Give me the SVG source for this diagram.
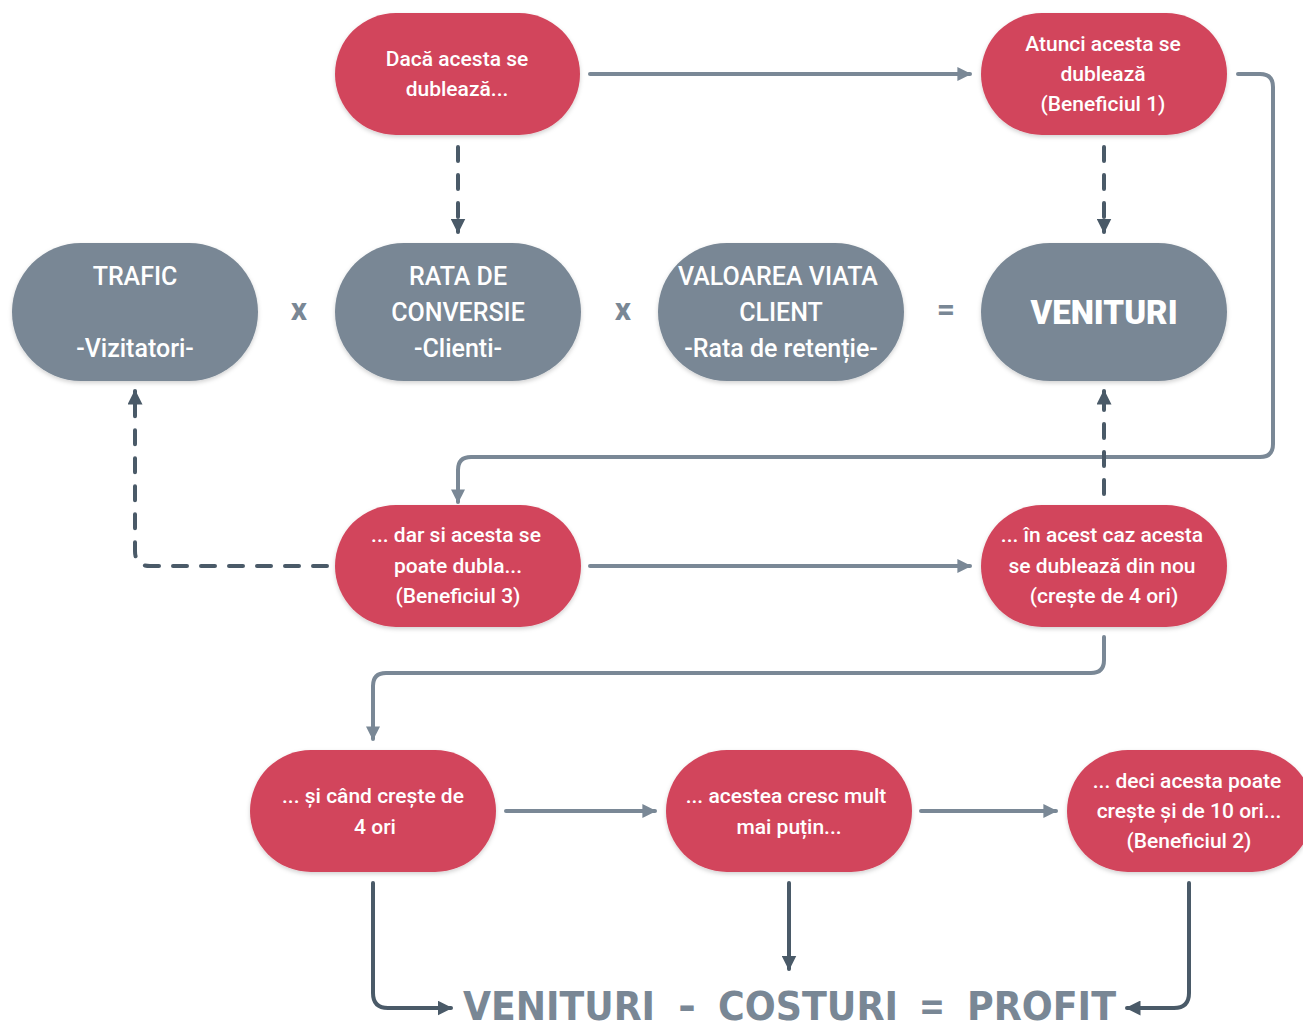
<svg xmlns="http://www.w3.org/2000/svg" width="1303" height="1029" viewBox="0 0 1303 1029">
<style>
.red{fill:#D2455B}
.gray{fill:#798795}
.t{font-family:Roboto,"Noto Sans",sans-serif;font-size:21px;font-weight:500;fill:#ffffff;text-anchor:middle}
.tg{font-family:Roboto,"Noto Sans",sans-serif;font-size:25px;font-weight:500;fill:#ffffff;text-anchor:middle}
.op{font-family:Roboto,"Noto Sans",sans-serif;font-size:32px;fill:#798795;text-anchor:middle;font-weight:bold}
.big{font-family:"DejaVu Sans Condensed","DejaVu Sans",sans-serif;font-size:39px;font-weight:bold;fill:#798795}
.solid{fill:none;stroke:#7A8896;stroke-width:4;stroke-linecap:round;stroke-linejoin:round}
.dash{fill:none;stroke:#4A5A68;stroke-width:4;stroke-linecap:round;stroke-dasharray:14 14}
.dark{fill:none;stroke:#4A5A68;stroke-width:4;stroke-linecap:round}
</style>
<defs>
<filter id="sh" x="-10%" y="-10%" width="120%" height="130%">
<feDropShadow dx="0" dy="2" stdDeviation="2" flood-color="#000" flood-opacity="0.18"/>
</filter>
<marker id="aS" viewBox="0 0 10 10" refX="9" refY="5" markerWidth="14" markerHeight="14" markerUnits="userSpaceOnUse" orient="auto"><path d="M0,0 L10,5 L0,10 z" fill="#7A8896"/></marker>
<marker id="aD" viewBox="0 0 10 10" refX="9" refY="5" markerWidth="15" markerHeight="15" markerUnits="userSpaceOnUse" orient="auto"><path d="M0,0 L10,5 L0,10 z" fill="#4A5A68"/></marker>
</defs>

<g id="connectors">
<path class="solid" d="M590,74 H970" marker-end="url(#aS)"/>
<path class="dash" d="M458,147 V222"/><path class="dark" d="M458,226 V232" marker-end="url(#aD)"/>
<path class="dash" d="M1104,147 V222"/><path class="dark" d="M1104,226 V232" marker-end="url(#aD)"/>
<path class="solid" d="M1238,74 H1260 Q1273,74 1273,87 V444 Q1273,457 1260,457 H471 Q458,457 458,470 V502" marker-end="url(#aS)"/>
<path class="dash" d="M1104,494 V400"/><path class="dark" d="M1104,396 V391" marker-end="url(#aD)"/>
<path class="dash" d="M327,566 H150 Q135,566 135,551 V400"/><path class="dark" d="M135,396 V391" marker-end="url(#aD)"/>
<path class="solid" d="M590,566 H970" marker-end="url(#aS)"/>
<path class="solid" d="M1104,637 V660 Q1104,673 1091,673 H386 Q373,673 373,686 V739" marker-end="url(#aS)"/>
<path class="solid" d="M506,811 H655" marker-end="url(#aS)"/>
<path class="solid" d="M921,811 H1056" marker-end="url(#aS)"/>
<path class="dark" d="M373,883 V993 Q373,1008 388,1008 H451" marker-end="url(#aD)"/>
<path class="dark" d="M789,883 V969" marker-end="url(#aD)"/>
<path class="dark" d="M1189,883 V993 Q1189,1008 1174,1008 H1127" marker-end="url(#aD)"/>
</g>

<g id="n1"><rect class="red" filter="url(#sh)" x="335" y="13" width="245" height="122" rx="61"/>
<text class="t" x="457" y="66">Dacă acesta se</text><text class="t" x="457" y="96">dublează...</text></g>

<g id="n2"><rect class="red" filter="url(#sh)" x="981" y="13" width="246" height="122" rx="61"/>
<text class="t" x="1103" y="51">Atunci acesta se</text><text class="t" x="1103" y="81">dublează</text><text class="t" x="1103" y="111">(Beneficiul 1)</text></g>

<g id="trafic"><rect class="gray" filter="url(#sh)" x="12" y="243" width="246" height="138" rx="69"/>
<text class="tg" x="135" y="285">TRAFIC</text><text class="tg" x="135" y="357">-Vizitatori-</text></g>

<g id="rata"><rect class="gray" filter="url(#sh)" x="335" y="243" width="246" height="138" rx="69"/>
<text class="tg" x="458" y="285">RATA DE</text><text class="tg" x="458" y="321">CONVERSIE</text><text class="tg" x="458" y="357">-Clienti-</text></g>

<g id="valoarea"><rect class="gray" filter="url(#sh)" x="658" y="243" width="246" height="138" rx="69"/>
<text class="tg" x="778" y="285">VALOAREA VIATA</text><text class="tg" x="781" y="321">CLIENT</text><text class="tg" x="781" y="357">-Rata de retenție-</text></g>

<g id="venituri"><rect class="gray" filter="url(#sh)" x="981" y="243" width="246" height="138" rx="69"/>
<text class="tg" x="1104" y="324" style="font-size:33px;font-weight:900">VENITURI</text></g>

<g id="ops">
<text class="op" x="299" y="320">x</text>
<text class="op" x="623" y="320">x</text>
<text class="op" x="946" y="320">=</text>
</g>

<g id="n3"><rect class="red" filter="url(#sh)" x="335" y="505" width="246" height="122" rx="61"/>
<text class="t" x="456" y="542">... dar si acesta se</text><text class="t" x="458" y="573">poate dubla...</text><text class="t" x="458" y="603">(Beneficiul 3)</text></g>

<g id="n4"><rect class="red" filter="url(#sh)" x="981" y="505" width="246" height="122" rx="61"/>
<text class="t" x="1102" y="542">... în acest caz acesta</text><text class="t" x="1102" y="573">se dublează din nou</text><text class="t" x="1104" y="603">(crește de 4 ori)</text></g>

<g id="n5"><rect class="red" filter="url(#sh)" x="250" y="750" width="246" height="122" rx="61"/>
<text class="t" x="373" y="803">... și când crește de</text><text class="t" x="375" y="834">4 ori</text></g>

<g id="n6"><rect class="red" filter="url(#sh)" x="666" y="750" width="246" height="122" rx="61"/>
<text class="t" x="786" y="803">... acestea cresc mult</text><text class="t" x="789" y="834">mai puțin...</text></g>

<g id="n7"><rect class="red" filter="url(#sh)" x="1067" y="750" width="246" height="122" rx="61"/>
<text class="t" x="1187" y="788">... deci acesta poate</text><text class="t" x="1189" y="818">crește și de 10 ori...</text><text class="t" x="1189" y="848">(Beneficiul 2)</text></g>

<g id="formula">
<text class="big" x="463" y="1020" textLength="192" lengthAdjust="spacingAndGlyphs">VENITURI</text>
<text class="big" x="678" y="1020" textLength="18" lengthAdjust="spacingAndGlyphs">-</text>
<text class="big" x="718" y="1020" textLength="180" lengthAdjust="spacingAndGlyphs">COSTURI</text>
<text class="big" x="919" y="1020" textLength="26" lengthAdjust="spacingAndGlyphs">=</text>
<text class="big" x="967" y="1020" textLength="149" lengthAdjust="spacingAndGlyphs">PROFIT</text>
</g>
</svg>
